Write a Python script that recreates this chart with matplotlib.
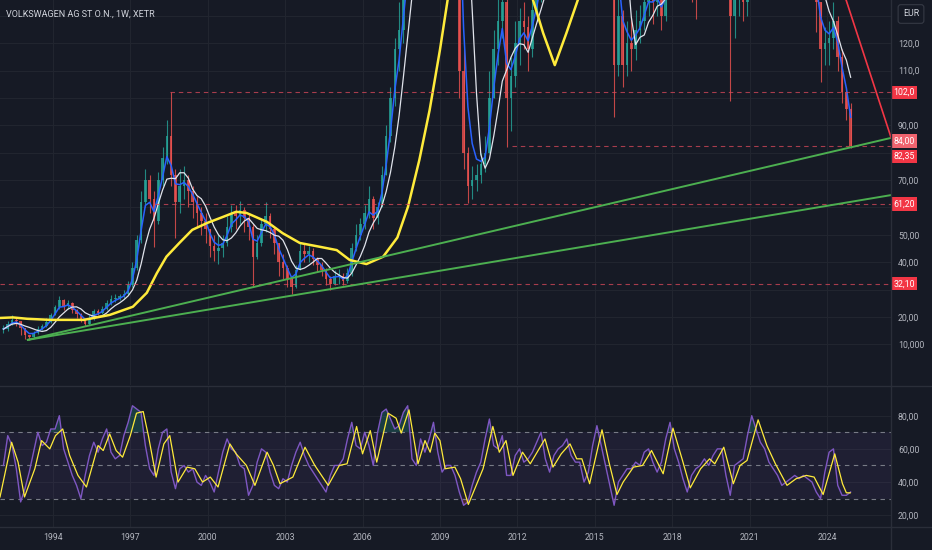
import numpy as np
import pandas as pd
import matplotlib
matplotlib.use("Agg")
import matplotlib.pyplot as plt
import matplotlib.transforms as mtransforms
from matplotlib.lines import Line2D

plt.rcParams['font.family'] = ['Roboto', 'DejaVu Sans']

first_year = 1992
closes = [
    15.5, 17.5, 19.0, 18.5, 16.0, 13.5,      # 1992
    12.5, 14.0, 15.5, 16.5, 18.0, 20.5,      # 1993
    23.5, 26.0, 24.0, 25.0, 22.5, 21.0,      # 1994
    19.0, 17.5, 19.5, 22.0, 21.5, 23.0,      # 1995
    25.0, 26.5, 27.0, 27.5, 28.5, 31.5,      # 1996
    38, 48, 62, 70, 63, 55,                  # 1997
    70, 78, 86, 72, 62, 68,                  # 1998
    70, 66, 62, 58, 55, 52,                  # 1999
    46, 44, 45, 47, 53, 58,                  # 2000
    57, 59, 56, 53, 42, 47,                  # 2001
    54, 57, 52, 47, 40, 38,                  # 2002
    34, 31, 37, 44, 43, 44,                  # 2003
    41, 39, 37, 34, 32, 35,                  # 2004
    35, 33, 36, 45, 50, 54,                  # 2005
    58, 63, 56, 60, 72, 86,                  # 2006
    100, 118, 125, 145, 160, 175,            # 2007
    160, 185, 195, 250, 400, 260,            # 2008
    230, 245, 255, 210, 110, 80,             # 2009
    68, 70, 72, 76, 80, 100,                 # 2010
    118, 128, 135, 100, 108, 120,            # 2011
    128, 126, 118, 132, 140, 150,            # 2012
    160, 165, 160, 170, 175, 180,            # 2013
    170, 175, 180, 165, 160, 175,            # 2014
    230, 245, 235, 185, 112, 130,            # 2015
    112, 120, 118, 125, 128, 135,            # 2016
    140, 135, 138, 130, 140, 165,            # 2017
    175, 165, 160, 150, 145, 140,            # 2018
    150, 155, 150, 150, 160, 175,            # 2019
    160, 130, 140, 140, 135, 150,            # 2020
    170, 260, 230, 220, 200, 200,            # 2021
    190, 170, 160, 150, 140, 140,            # 2022
    155, 150, 145, 135, 118, 120,            # 2023
    122, 128, 115, 102, 96, 82.35,           # 2024
]
highs = [
    17, 18.5, 20.5, 19.5, 18.5, 16,
    13.5, 15, 16.5, 17.5, 19.5, 21.5,
    24.5, 27.5, 26.5, 26.0, 25.5, 23.0,
    21.5, 19.5, 20.5, 23.0, 23.0, 24.0,
    26, 28, 28.5, 28.5, 30, 33,
    40, 50, 66, 74, 72, 66,
    73, 82, 92, 102, 74, 74,
    75, 72, 68, 64, 60, 58,
    52, 50, 50, 50, 57, 61,
    61, 62.5, 60, 58, 54, 50,
    56, 62, 58, 53, 47, 43,
    39, 35, 39, 47, 47, 46,
    45, 42, 40, 38, 35, 37,
    37.5, 36, 38, 47, 54, 56,
    61, 68, 64, 62, 75, 90,
    104, 122, 135, 155, 170, 185,
    190, 200, 210, 280, 1000, 480,
    280, 270, 275, 265, 220, 118,
    82, 75, 76, 80, 86, 110,
    125, 136, 145, 138, 115, 128,
    133, 135, 130, 138, 150, 160,
    170, 172, 170, 178, 182, 190,
    185, 185, 190, 182, 170, 180,
    240, 255, 248, 235, 190, 138,
    132, 128, 130, 132, 134, 140,
    150, 145, 145, 140, 145, 172,
    190, 180, 172, 162, 155, 150,
    158, 165, 160, 158, 165, 180,
    180, 165, 150, 150, 145, 160,
    180, 330, 270, 240, 230, 215,
    210, 195, 175, 165, 155, 150,
    165, 160, 155, 148, 135, 126,
    128, 135, 130, 118, 104, 98,
]
lows = [
    14, 15, 17, 16.5, 13.5, 12,
    11.6, 12.3, 13.8, 15.2, 16.2, 17.8,
    20.5, 23.0, 22.5, 23.0, 21.5, 19.5,
    18.0, 16.5, 17.0, 19.0, 20.5, 21.0,
    22.5, 24.5, 25.5, 26, 27, 28,
    31, 37, 47, 60, 58, 45.5,
    54, 68, 76, 68, 49, 58,
    63, 60, 56, 53, 50, 47,
    42, 40.5, 39.5, 42, 46, 51,
    52, 54, 51, 48, 31, 41,
    46, 51, 49, 43, 35, 34,
    31, 28.5, 30.5, 37, 40, 40,
    39, 36.5, 35, 31.5, 30, 31.5,
    32, 31.5, 32.5, 35, 44, 48,
    52, 56, 52, 54, 60, 72,
    84, 97, 110, 120, 140, 155,
    140, 150, 180, 190, 210, 230,
    190, 210, 225, 195, 100, 74,
    61.5, 63, 66, 69, 73, 80,
    100, 112, 122, 82, 88, 104,
    112, 118, 110, 115, 128, 135,
    145, 150, 148, 155, 162, 170,
    160, 160, 170, 155, 150, 155,
    180, 225, 215, 170, 93, 108,
    104, 108, 110, 114, 120, 125,
    130, 127, 130, 125, 128, 140,
    160, 155, 150, 140, 135, 129,
    138, 145, 142, 140, 148, 158,
    150, 99, 122, 130, 128, 130,
    145, 170, 215, 200, 190, 185,
    180, 160, 150, 140, 138, 137,
    140, 140, 137, 124, 106, 112,
    112, 118, 110, 98, 92, 81.8,
]

# slow moving average (yellow), read point by point
slow_ma_dates = [1991.95, 1992.45, 1993.0, 1993.9, 1995.2, 1996.2, 1997.1, 1997.64, 1998.03,
                 1998.4, 1998.9, 1999.4, 2000.0, 2000.5, 2001.1, 2001.5, 2002.3, 2002.9,
                 2003.57, 2004.35, 2005.0, 2005.5, 2006.15, 2006.8, 2007.35, 2007.76, 2008.2,
                 2008.6, 2009.0, 2009.3, 2009.8, 2010.6, 2011.5, 2012.2, 2012.6, 2013.0,
                 2013.45, 2013.9, 2014.35, 2014.9, 2016.0, 2018.0, 2020.0, 2022.0, 2024.9]
slow_ma_vals = [19.6, 19.8, 19.3, 18.9, 18.9, 20.7, 23.7, 28.8, 36.0,
                42.0, 47.0, 51.8, 54.4, 56.2, 58.4, 58.0, 54.7, 50.6,
                47.0, 45.6, 44.4, 40.8, 39.3, 42.0, 49.0, 60.2, 77.3,
                95.6, 117.6, 136, 165, 190, 180, 152, 136, 123.7,
                112.0, 123.7, 136, 152, 170, 165, 158, 170, 150]

# support / resistance levels
level_vals = [102.0, 82.35, 61.2, 32.1]
level_starts = [1998.53, 2011.79, 1997.95, 1991.95]

# trend lines (two anchor points each)
support_hi = ([1993.03, 2026.48], [11.6, 85.4])
support_lo = ([1993.03, 2026.48], [11.6, 64.5])
resist_line = ([2024.3, 2026.48], [148.5, 85.6])

price_ticks = list(range(10, 140, 10))
# labels hidden behind the level boxes stay blank
price_tick_labels = ['10,000', '20,00', '', '40,00', '50,00', '', '70,00',
                     '', '90,00', '', '110,0', '120,0', '']
year_ticks = list(range(1994, 2025, 3))

# ---- RSI (two-month samples) and its moving average
rsi_vals = [
    50, 68, 62, 48, 28, 36,
    46, 58, 70, 62, 64, 72,
    72, 80, 60, 52, 44, 38,
    30, 44, 56, 64, 58, 66,
    72, 58, 54, 56, 68, 76,
    86, 84, 82, 62, 48, 44,
    60, 70, 72, 46, 36, 48,
    50, 46, 48, 40, 38, 44,
    40, 34, 46, 58, 66, 60,
    58, 50, 48, 32, 38, 52,
    60, 58, 46, 38, 36, 42,
    40, 50, 58, 64, 56, 50,
    46, 42, 38, 34, 44, 50,
    50, 54, 66, 76, 62, 60,
    70, 62, 50, 70, 82, 84,
    78, 72, 74, 82, 86, 54,
    50, 66, 58, 66, 76, 58,
    46, 50, 50, 44, 34, 26,
    28, 38, 46, 52, 66, 78,
    62, 60, 68, 44, 44, 56,
    60, 52, 54, 58, 64, 70,
    54, 46, 56, 60, 62, 66,
    56, 52, 52, 40, 46, 62,
    74, 62, 50, 38, 26, 40,
    44, 48, 48, 52, 50, 58,
    60, 52, 46, 52, 66, 76,
    60, 52, 42, 34, 44, 48,
    50, 54, 50, 56, 60, 60,
    44, 32, 50, 52, 54, 68,
    80, 72, 64, 60, 52, 48,
    44, 38, 40, 42, 44, 42,
    44, 42, 40, 34, 30, 46,
    58, 60, 38, 32, 32, 34,
]
rsi_ma_dates = [1991.95, 1992.4, 1992.65, 1992.9, 1993.3, 1993.56, 1993.88, 1994.1, 1994.38,
                1994.65, 1994.97, 1995.3, 1995.75, 1995.95, 1996.2, 1996.45, 1996.7, 1997.0,
                1997.24, 1997.5, 1997.7, 1998.0, 1998.3, 1998.53, 1998.85, 1999.2, 1999.5,
                1999.8, 2000.1, 2000.4, 2000.86, 2001.1, 2001.5, 2001.83, 2002.3, 2002.55,
                2002.8, 2003.3, 2003.77, 2004.15, 2004.67, 2005.1, 2005.4, 2005.77, 2006.0,
                2006.3, 2006.55, 2006.99, 2007.3, 2007.5, 2007.8, 2008.15, 2008.42, 2008.62,
                2008.8, 2009.0, 2009.2, 2009.58, 2009.8, 2010.1, 2010.67, 2011.05, 2011.3,
                2011.56, 2011.83, 2012.2, 2012.5, 2013.07, 2013.38, 2013.7, 2014.04, 2014.3,
                2014.5, 2014.8, 2015.28, 2015.55, 2015.86, 2016.1, 2016.5, 2016.85, 2017.2,
                2017.65, 2018.03, 2018.4, 2018.7, 2019.1, 2019.45, 2019.65, 2020.0, 2020.37,
                2020.63, 2020.9, 2021.33, 2021.67, 2022.0, 2022.45, 2022.8, 2023.2, 2023.5,
                2023.85, 2024.3, 2024.6, 2024.75, 2024.9]
rsi_ma_vals = [31, 64, 52, 31, 48, 65, 60, 68, 72,
               56, 44, 37, 62, 59, 69, 59, 55, 68,
               81.5, 82.5, 68, 43, 63, 68, 40, 49, 48,
               40, 43, 37, 63, 57, 50, 38, 58, 50,
               39, 43, 61, 50, 38, 50, 51, 73.5, 57,
               71, 52, 81.5, 78.5, 69.5, 83.5, 51, 65, 58,
               69.5, 65, 48, 49, 42, 26.5, 48, 73.5, 58,
               65, 44, 58, 51, 66, 49, 57, 63, 54,
               54, 39, 71.5, 52, 32.5, 40, 49, 50, 59,
               45, 72.5, 53, 36.5, 48, 54, 51, 61, 39,
               50, 53, 77.5, 62, 51, 38, 42, 44, 43,
               32.5, 57, 39, 33.5, 33.5]

# ---- styling
BG = '#161a25'
GRID = '#21252f'
TXT = '#b2b5be'
UP = '#26a69a'
DOWN = '#ef5350'
RED = '#f23645'
W, H = 932, 550

c = np.array(closes, dtype=float)
h = np.array(highs, dtype=float)
l = np.array(lows, dtype=float)
o = np.r_[c[0], c[:-1]]
h = np.maximum(h, np.maximum(o, c))
l = np.minimum(l, np.minimum(o, c))
t = first_year + np.arange(len(c)) / 6 + 1 / 12

fast_ma = pd.Series(c).ewm(span=3, adjust=False).mean().values
mid_ma = pd.Series(c).rolling(6, min_periods=1).mean().values

fig = plt.figure(figsize=(W / 100, H / 100), dpi=100)
fig.patch.set_facecolor(BG)
ax = fig.add_axes([0, 1 - 385 / H, 891 / W, 385 / H])
ax_rsi = fig.add_axes([0, 23 / H, 891 / W, 141 / H], sharex=ax)

for a in (ax, ax_rsi):
    a.set_facecolor(BG)
    for s in a.spines.values():
        s.set_visible(False)
    a.yaxis.tick_right()
    a.tick_params(axis='both', length=0, labelcolor=TXT, labelsize=6.3)
    a.tick_params(axis='y', pad=5)
    a.grid(True, color=GRID, lw=0.8)
    a.set_axisbelow(True)

# candles
up = c >= o
cols = np.where(up, UP, DOWN)
ax.vlines(t, l, h, colors=cols, lw=0.8, alpha=0.8, zorder=2)
body = np.maximum(np.abs(c - o), 0.4)
ax.bar(t, body, bottom=np.minimum(o, c), width=0.1, color=cols, alpha=0.8,
       linewidth=0, zorder=2)

ax.plot(t, fast_ma, color='#2962ff', lw=1.1, zorder=3)
ax.plot(t, mid_ma, color='#e0e3eb', lw=0.9, zorder=3)
ax.plot(slow_ma_dates, slow_ma_vals, color='#ffeb3b', lw=1.8, zorder=4)

for v, x0 in zip(level_vals, level_starts):
    ax.plot([x0, 2026.6], [v, v], color='#d9495a', lw=0.8, alpha=0.75,
            dashes=(4, 3.5), zorder=4)

ax.plot(*support_hi, color='#4caf50', lw=1.4, zorder=5)
ax.plot(*support_lo, color='#4caf50', lw=1.4, zorder=5)
ax.plot(*resist_line, color=RED, lw=1.2, zorder=5)

ax.set_xlim(1991.95, 2026.48)
ax.set_ylim(-4.9, 135.8)
ax.set_yticks(price_ticks)
ax.set_yticklabels(price_tick_labels)
ax.tick_params(axis='x', labelbottom=False)

# price labels on the scale
blend = mtransforms.blended_transform_factory(ax.transAxes, ax.transData)
labels = [('102,0', 102.0, RED), ('84,00', 84.3, '#f0646f'), ('82,35', 78.7, RED),
          ('61,20', 61.2, RED), ('32,10', 32.1, RED)]
for txt, yv, fc in labels:
    ax.text(1.003, yv, txt, transform=blend, ha='left', va='center', fontsize=6.3,
            color='white', clip_on=False, zorder=10,
            bbox=dict(boxstyle='square,pad=0.25', fc=fc, ec='none'))

# RSI pane
ax_rsi.axhspan(30, 70, color='#7e57c2', alpha=0.09, lw=0)
for lv in (70, 50, 30):
    ax_rsi.axhline(lv, color='#787b86', lw=0.8, dashes=(4, 4))
rsi = np.array(rsi_vals, dtype=float)
ax_rsi.fill_between(t, rsi, 70, where=rsi > 70, interpolate=True, color='#26a69a',
                    alpha=0.25, lw=0)
ax_rsi.fill_between(t, rsi, 30, where=rsi < 30, interpolate=True, color='#ef5350',
                    alpha=0.25, lw=0)
ax_rsi.plot(t, rsi, color='#7e57c2', lw=1.0)
ax_rsi.plot(rsi_ma_dates, rsi_ma_vals, color='#ffeb3b', lw=0.9)
ax_rsi.set_ylim(12.9, 97.9)
ax_rsi.set_yticks([20, 40, 60, 80])
ax_rsi.set_yticklabels(['20,00', '40,00', '60,00', '80,00'])
ax_rsi.set_xticks(year_ticks)
ax_rsi.set_xticklabels([str(y) for y in year_ticks])
ax_rsi.tick_params(axis='x', pad=4.5)

# pane separators and price scale border
sep = '#2a2e39'
for yy in (385.5, 527):
    fig.add_artist(Line2D([0, 1], [1 - yy / H, 1 - yy / H], color=sep, lw=1))
fig.add_artist(Line2D([891 / W, 891 / W], [0, 1], color=sep, lw=1))

fig.text(6 / W, 1 - 14 / H, 'VOLKSWAGEN AG ST O.N., 1W, XETR', fontsize=6.5,
         color='#d1d4dc', va='center', ha='left')
fig.text(911 / W, 1 - 14 / H, 'EUR', fontsize=6.3, color='#d1d4dc', va='center',
         ha='center', bbox=dict(boxstyle='round,pad=0.55,rounding_size=0.3', fc=BG,
                                ec='#363a45', lw=0.8))

fig.savefig('out.png', dpi=100, facecolor=BG)
